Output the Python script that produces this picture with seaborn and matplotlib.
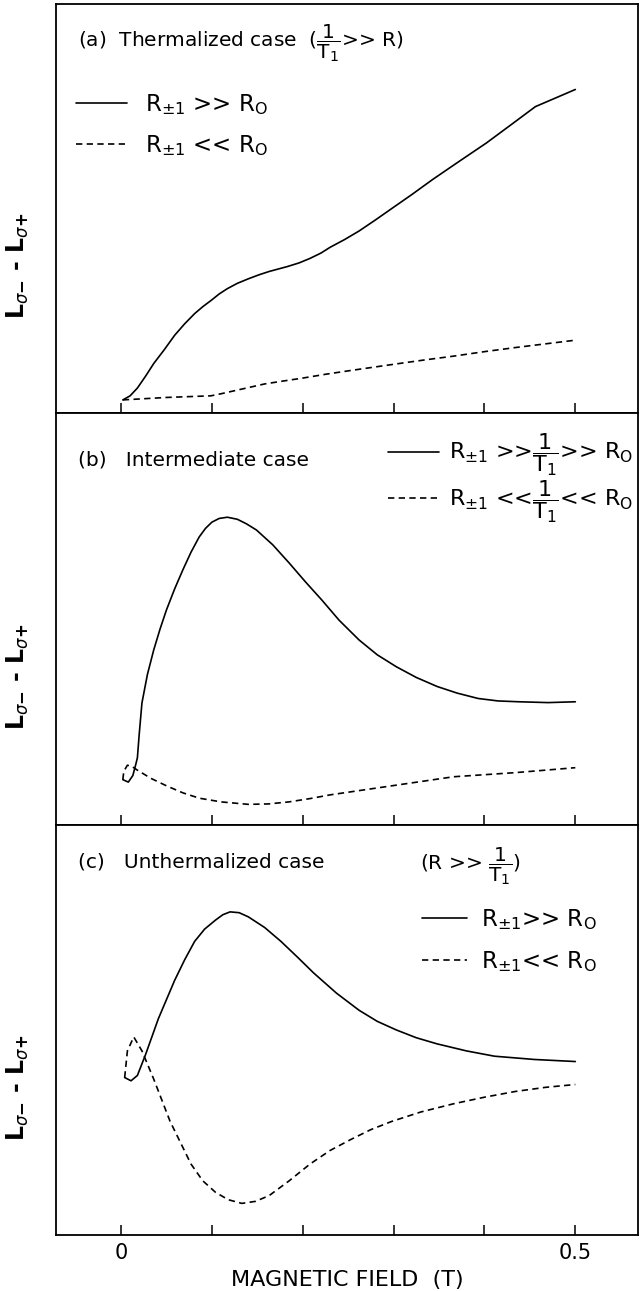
import numpy as np
import pandas as pd
import matplotlib
matplotlib.use("Agg")
import matplotlib.pyplot as plt
import seaborn as sns
from matplotlib.lines import Line2D

# ---------------- data (x: magnetic field in T, y: relative signal, % of panel) ----
# Panel (a) thermalized
a_solid_x = [0.002, 0.010, 0.018, 0.027, 0.036, 0.048, 0.059, 0.070, 0.081, 0.090, 0.099,
             0.108, 0.117, 0.128, 0.140, 0.152, 0.163, 0.173, 0.183, 0.196, 0.208,
             0.220, 0.230, 0.246, 0.262, 0.280, 0.298, 0.320, 0.343, 0.372, 0.402,
             0.430, 0.456, 0.478, 0.500]
a_solid_y = [3.2, 4.2, 6.1, 9.0, 12.1, 15.6, 19.0, 21.8, 24.3, 26.0, 27.5,
             29.1, 30.4, 31.7, 32.8, 33.8, 34.6, 35.2, 35.8, 36.7, 37.8,
             39.1, 40.5, 42.4, 44.5, 47.2, 50.0, 53.4, 57.1, 61.5, 66.0,
             70.6, 74.9, 77.0, 79.1]
a_dash_x = [0.002, 0.050, 0.099, 0.110, 0.122, 0.140, 0.158, 0.178, 0.199, 0.226, 0.253,
            0.278, 0.303, 0.335, 0.366, 0.400, 0.434, 0.467, 0.500]
a_dash_y = [3.2, 3.8, 4.2, 4.7, 5.3, 6.2, 7.1, 7.8, 8.5, 9.5, 10.4,
            11.2, 12.0, 13.0, 13.9, 15.0, 16.0, 16.9, 17.8]

# Panel (b) intermediate
b_solid_x = [0.002, 0.008, 0.013, 0.016, 0.018, 0.020, 0.023, 0.029, 0.036, 0.043, 0.050,
             0.059, 0.068, 0.077, 0.086, 0.093, 0.100, 0.108, 0.117, 0.128, 0.138,
             0.149, 0.167, 0.185, 0.203, 0.221, 0.240, 0.262, 0.282, 0.303, 0.325,
             0.348, 0.370, 0.393, 0.415, 0.438, 0.470, 0.500]
b_solid_y = [11.0, 10.4, 12.0, 14.5, 16.3, 22.0, 29.6, 36.5, 42.5, 47.6, 52.2,
             57.3, 61.9, 66.2, 69.9, 72.0, 73.5, 74.4, 74.7, 74.2, 73.1,
             71.6, 68.0, 63.6, 59.0, 54.6, 49.7, 44.9, 41.3, 38.4, 35.8,
             33.6, 32.0, 30.7, 30.1, 29.9, 29.7, 29.9]
b_dash_x = [0.002, 0.003, 0.007, 0.012, 0.018, 0.033, 0.050, 0.068, 0.086, 0.110, 0.140,
            0.162, 0.185, 0.208, 0.230, 0.264, 0.298, 0.332, 0.366, 0.400, 0.434, 0.467, 0.500]
b_dash_y = [11.0, 13.0, 14.5, 14.2, 13.3, 11.3, 9.5, 7.8, 6.5, 5.6, 5.0,
            5.1, 5.6, 6.4, 7.3, 8.4, 9.5, 10.6, 11.7, 12.2, 12.7, 13.3, 13.9]

# Panel (c) unthermalized
c_solid_x = [0.004, 0.011, 0.018, 0.027, 0.041, 0.059, 0.070, 0.081, 0.092, 0.104, 0.112,
             0.120, 0.130, 0.140, 0.158, 0.176, 0.194, 0.212, 0.237, 0.262, 0.282,
             0.303, 0.325, 0.348, 0.380, 0.411, 0.455, 0.500]
c_solid_y = [38.4, 37.6, 38.9, 44.0, 52.7, 62.1, 67.1, 71.6, 74.6, 76.8, 78.1,
             78.8, 78.6, 77.6, 75.0, 71.6, 67.8, 63.9, 59.0, 54.8, 52.1,
             50.0, 48.1, 46.6, 44.9, 43.6, 42.8, 42.3]
c_dash_x = [0.004, 0.007, 0.014, 0.023, 0.036, 0.054, 0.077, 0.090, 0.104, 0.118, 0.133,
            0.148, 0.163, 0.185, 0.208, 0.230, 0.253, 0.275, 0.298, 0.330, 0.366,
            0.400, 0.434, 0.467, 0.500]
c_dash_y = [38.4, 44.9, 48.3, 44.9, 38.0, 27.7, 17.3, 13.2, 10.4, 8.6, 7.7,
            8.2, 9.6, 13.2, 17.3, 20.6, 23.3, 25.7, 27.7, 30.0, 32.0,
            33.6, 35.0, 36.0, 36.7]

tick_values = [0.0, 0.1, 0.2, 0.3, 0.4, 0.5]
tick_labels = ["0", "", "", "", "", "0.5"]

panel_titles = ["(a)  Thermalized case", "(b)   Intermediate case", "(c)   Unthermalized case"]
frac = r"$\dfrac{1}{\mathrm{T}_1}$"
legend_labels = [
    [r"R$_{\pm1}$ >> R$_{\rm O}$", r"R$_{\pm1}$ << R$_{\rm O}$"],
    [r"R$_{\pm1}$ >>" + frac + r">> R$_{\rm O}$", r"R$_{\pm1}$ <<" + frac + r"<< R$_{\rm O}$"],
    [r"R$_{\pm1}$>> R$_{\rm O}$", r"R$_{\pm1}$<< R$_{\rm O}$"],
]
ylabel = r"L$_{\sigma\mathbf{-}}$ - L$_{\sigma\mathbf{+}}$"
xlabel = "MAGNETIC FIELD  (T)"

# ---------------- style ----------------
sns.set_style("ticks")
plt.rcParams["font.family"] = ["DejaVu Sans"]
plt.rcParams["mathtext.fontset"] = "dejavusans"
plt.rcParams["axes.linewidth"] = 1.3
for k in ["text.color", "axes.labelcolor", "xtick.color", "ytick.color", "axes.edgecolor"]:
    plt.rcParams[k] = "black"

fig = plt.figure(figsize=(6.42, 12.91), dpi=100)
left, width = 0.0872, 0.9066
bottoms = [0.6801, 0.3610, 0.0434]
heights = [0.9969 - 0.6801, 0.6801 - 0.3610, 0.3610 - 0.0434]

panels = [
    (a_solid_x, a_solid_y, a_dash_x, a_dash_y),
    (b_solid_x, b_solid_y, b_dash_x, b_dash_y),
    (c_solid_x, c_solid_y, c_dash_x, c_dash_y),
]

dash_pattern = (3.8, 2.6)
for i, (sx, sy, dx, dy) in enumerate(panels):
    ax = fig.add_axes([left, bottoms[i], width, heights[i]])
    df_s = pd.DataFrame({"B": sx, "S": sy})
    df_d = pd.DataFrame({"B": dx, "S": dy})
    sns.lineplot(data=df_s, x="B", y="S", sort=False, estimator=None,
                 color="black", lw=1.2, ax=ax)
    sns.lineplot(data=df_d, x="B", y="S", sort=False, estimator=None,
                 color="black", lw=1.2, ax=ax, linestyle=(0, dash_pattern))
    ax.set_xlim(-0.0716, 0.569)
    ax.set_ylim(0, 100)
    ax.set_yticks([])
    ax.set_xticks(tick_values)
    ax.tick_params(axis="x", direction="in", length=7, width=1.1, labelsize=15, pad=6)
    if i == 2:
        ax.set_xticklabels(tick_labels)
        ax.set_xlabel(xlabel, fontsize=16, labelpad=5)
    else:
        ax.set_xticklabels([])
        ax.set_xlabel("")
    ax.set_ylabel(ylabel, fontsize=17, fontweight="bold")
    ax.yaxis.set_label_coords(-0.043, 0.36)

    handles = [Line2D([], [], color="black", lw=1.2),
               Line2D([], [], color="black", lw=1.2, linestyle=(0, dash_pattern))]
    if i == 0:
        ax.text(0.038, 0.905, panel_titles[0] + "  (" + frac + ">> R)", transform=ax.transAxes,
                fontsize=14.5, va="center", ha="left")
        ax.legend(handles, legend_labels[0], loc="upper left", bbox_to_anchor=(0.035, 0.785),
                  frameon=False, fontsize=16.5, handlelength=2.2, handletextpad=0.8,
                  labelspacing=0.7, borderpad=0, borderaxespad=0)
    elif i == 1:
        ax.text(0.038, 0.886, panel_titles[1], transform=ax.transAxes,
                fontsize=14.5, va="center", ha="left")
        ax.legend(handles, legend_labels[1], loc="upper left", bbox_to_anchor=(0.57, 0.955),
                  frameon=False, fontsize=16, handlelength=2.3, handletextpad=0.45,
                  labelspacing=0.0, borderpad=0, borderaxespad=0)
    else:
        ax.text(0.038, 0.91, panel_titles[2], transform=ax.transAxes,
                fontsize=14.5, va="center", ha="left")
        ax.text(0.625, 0.9, "(R >> " + frac + ")", transform=ax.transAxes,
                fontsize=14.5, va="center", ha="left")
        ax.legend(handles, legend_labels[2], loc="upper left", bbox_to_anchor=(0.628, 0.80),
                  frameon=False, fontsize=16.5, handlelength=2.0, handletextpad=0.6,
                  labelspacing=0.75, borderpad=0, borderaxespad=0)

fig.savefig("out.png", dpi=100, facecolor="white")
